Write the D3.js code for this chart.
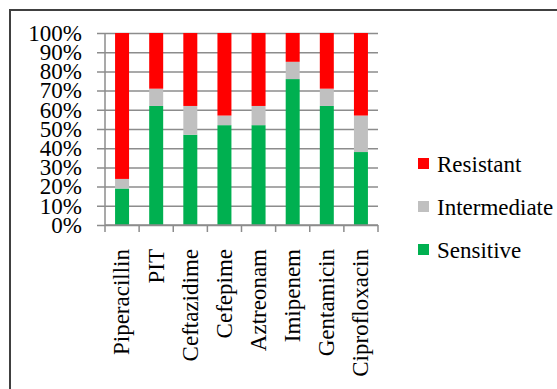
<!DOCTYPE html>
<html>
<head>
<meta charset="utf-8">
<script src="https://cdn.jsdelivr.net/npm/d3@7"></script>
</head>
<body style="margin:0">
<div id="viz"></div>
<script>
const drugs = ['Piperacillin', 'PIT', 'Ceftazidime', 'Cefepime', 'Aztreonam', 'Imipenem', 'Gentamicin', 'Ciprofloxacin'];
const sensitive = [19, 62, 47, 52, 52, 76, 62, 38];
const intermediate = [5, 9, 15, 5, 10, 9, 9, 19];
const resistant = [76, 29, 38, 43, 38, 15, 29, 43];
const seriesNames = ['Sensitive', 'Intermediate', 'Resistant'];
const seriesColors = ['#00b050', '#c0c0c0', '#ff0000'];
const yTicks = [0, 10, 20, 30, 40, 50, 60, 70, 80, 90, 100];

const width = 557;
const height = 389;
const plotLeft = 105, plotRight = 378, plotTop = 33, plotBottom = 225;
const fontName = 'Liberation Serif';
const fontSize = 23;

const svg = d3.select('#viz')
      .append('svg')
      .attr('width', width)
      .attr('height', height);

// outer frame (runs off the right and bottom edge)
svg.append('rect')
    .attr('x', 10)
    .attr('y', 10)
    .attr('width', 600)
    .attr('height', 450)
    .attr('fill', 'white')
    .attr('stroke', '#404040')
    .attr('stroke-width', 2);

const x = d3.scaleBand()
      .domain(drugs)
      .range([plotLeft, plotRight])
      .paddingInner(0.59)
      .paddingOuter(0.295);

const y = d3.scaleLinear()
      .domain([0, 100])
      .range([plotBottom, plotTop]);

const rows = drugs.map((d, i) => ({
  drug: d,
  Sensitive: sensitive[i],
  Intermediate: intermediate[i],
  Resistant: resistant[i]
}));
const stacked = d3.stack().keys(seriesNames)(rows);

function serifText(sel) {
  sel.attr('font-family', fontName)
     .attr('font-size', fontSize)
     .style('font-family', () => `"${fontName}"`)
     .attr('fill', '#000');
}

// gridlines with outward ticks
const yAxis = svg.append('g')
      .attr('transform', `translate(${plotLeft},0)`)
      .call(d3.axisLeft(y).tickValues(yTicks).tickSize(-(plotRight - plotLeft)).tickSizeOuter(0)
            .tickFormat(d => d + '%'))
      .attr('font-family', null)
      .attr('font-size', null);
yAxis.select('.domain').remove();
yAxis.selectAll('.tick line')
    .attr('x1', -8)
    .attr('stroke', '#8c8c8c')
    .attr('stroke-width', 1.5);
yAxis.selectAll('.tick text')
    .attr('x', -23)
    .attr('dy', '0.32em')
    .call(serifText);

// left axis line
svg.append('line')
    .attr('x1', plotLeft).attr('x2', plotLeft)
    .attr('y1', plotTop).attr('y2', plotBottom)
    .attr('stroke', '#8c8c8c')
    .attr('stroke-width', 1.5);

// bars
svg.append('g')
  .selectAll('g')
  .data(stacked)
  .join('g')
    .attr('fill', (d, i) => seriesColors[i])
  .selectAll('rect')
  .data(d => d)
  .join('rect')
    .attr('x', d => x(d.data.drug))
    .attr('y', d => y(d[1]))
    .attr('width', x.bandwidth())
    .attr('height', d => y(d[0]) - y(d[1]));

// x axis with ticks at category boundaries
const bounds = d3.range(drugs.length + 1).map(i => plotLeft + i * x.step());
const xAxis = svg.append('g');
xAxis.append('line')
    .attr('x1', plotLeft).attr('x2', plotRight)
    .attr('y1', plotBottom).attr('y2', plotBottom)
    .attr('stroke', '#8c8c8c')
    .attr('stroke-width', 1.5);
xAxis.selectAll('.xtick')
  .data(bounds)
  .join('line')
    .attr('class', 'xtick')
    .attr('x1', d => d).attr('x2', d => d)
    .attr('y1', plotBottom).attr('y2', plotBottom + 7)
    .attr('stroke', '#8c8c8c')
    .attr('stroke-width', 1.5);

xAxis.selectAll('.xlabel')
  .data(drugs)
  .join('text')
    .attr('class', 'xlabel')
    .attr('transform', d => `translate(${x(d) + x.bandwidth() / 2},${plotBottom + 24}) rotate(-90)`)
    .attr('text-anchor', 'end')
    .attr('dy', '0.32em')
    .call(serifText)
    .text(d => d);

// legend, Resistant on top
const legend = svg.append('g')
      .attr('transform', 'translate(418,158)');
const legendOrder = seriesNames.slice().reverse();
const item = legend.selectAll('g')
  .data(legendOrder)
  .join('g')
    .attr('transform', (d, i) => `translate(0,${i * 43})`);
item.append('rect')
    .attr('width', 11)
    .attr('height', 11)
    .attr('fill', d => seriesColors[seriesNames.indexOf(d)]);
item.append('text')
    .attr('x', 19)
    .attr('y', 6)
    .attr('dy', '0.35em')
    .call(serifText)
    .text(d => d);
</script>
</body>
</html>
